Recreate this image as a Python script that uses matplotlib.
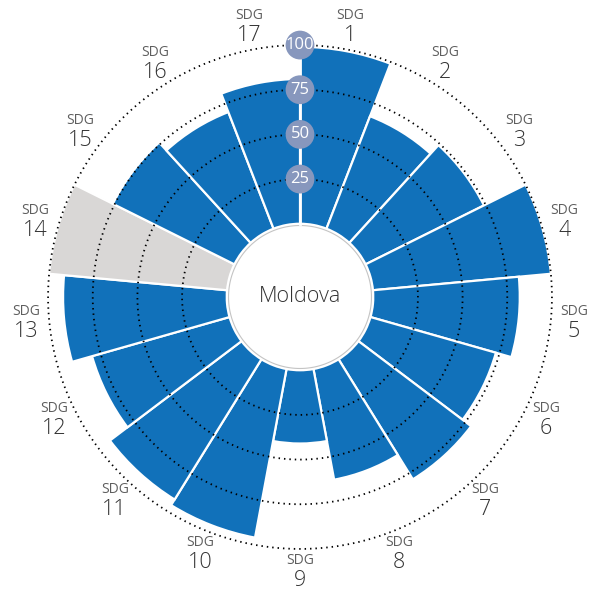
import numpy as np
import matplotlib
matplotlib.use('Agg')
import matplotlib.pyplot as plt

# Datos del gráfico
pais = "Moldova"
sdg = list(range(1, 18))
puntaje = [99, 67.5, 74, 100, 82, 73, 79, 63, 41, 96, 92.3, 80, 91.6, np.nan, 76, 70, 81]
niveles = [25, 50, 75, 100]

AZUL = '#1171BA'
GRIS = '#D9D7D6'
CIRCULO = '#8797BD'

plt.rcParams['font.family'] = ['Open Sans', 'DejaVu Sans']

fig = plt.figure(figsize=(5.98, 5.90), dpi=100)
ax = fig.add_axes([10 / 598, 3 / 590, 580 / 598, 580 / 590], projection='polar')
ax.set_theta_zero_location('N')
ax.set_theta_direction(-1)
ax.set_ylim(-41, 121.3)
ax.axis('off')

n = len(sdg)
ancho = 2 * np.pi / n
centros = np.arange(n) * ancho + ancho / 2

valores = np.array(puntaje, dtype=float)
falta = np.isnan(valores)
alturas = np.where(falta, 100, valores)
colores = [GRIS if f else AZUL for f in falta]

ax.bar(centros, alturas, width=ancho, bottom=0, color=colores,
       edgecolor='white', linewidth=1.6, zorder=2)

# Circulos punteados
t = np.linspace(0, 2 * np.pi, 720)
for nv in niveles:
    ax.plot(t, np.full_like(t, nv), color='black', lw=1.3,
            linestyle=(0, (0.8, 2.2)), zorder=3)

# Hueco central
ax.fill(t, np.full_like(t, -1), facecolor='white', edgecolor='#c4c4c4',
        lw=0.8, zorder=4)
ax.text(0, -41, pais, ha='center', va='center', fontsize=15.5, color='#333333',
        fontweight='light', zorder=5)

# Eje vertical con etiquetas
ax.plot([0, 0], [0, 100], color='white', lw=2, zorder=4)
ax.scatter(np.zeros(len(niveles)), niveles, s=430, color=CIRCULO, zorder=5,
           edgecolors='none')
for nv in niveles:
    ax.text(0, nv, str(nv), ha='center', va='center', fontsize=12,
            color='white', zorder=6)

# Etiquetas SDG
r_etiqueta = 275 / 1.787 - 41
for c, s in zip(centros, sdg):
    ax.annotate('SDG', (c, r_etiqueta), xytext=(0, 11), textcoords='offset pixels',
                ha='center', va='center', fontsize=10, color='#5e5e5e',
                annotation_clip=False)
    ax.annotate(str(s), (c, r_etiqueta), xytext=(0, -9), textcoords='offset pixels',
                ha='center', va='center', fontsize=15.5, color='#333333',
                fontweight='light', annotation_clip=False)

fig.savefig('out.png', dpi=100)
